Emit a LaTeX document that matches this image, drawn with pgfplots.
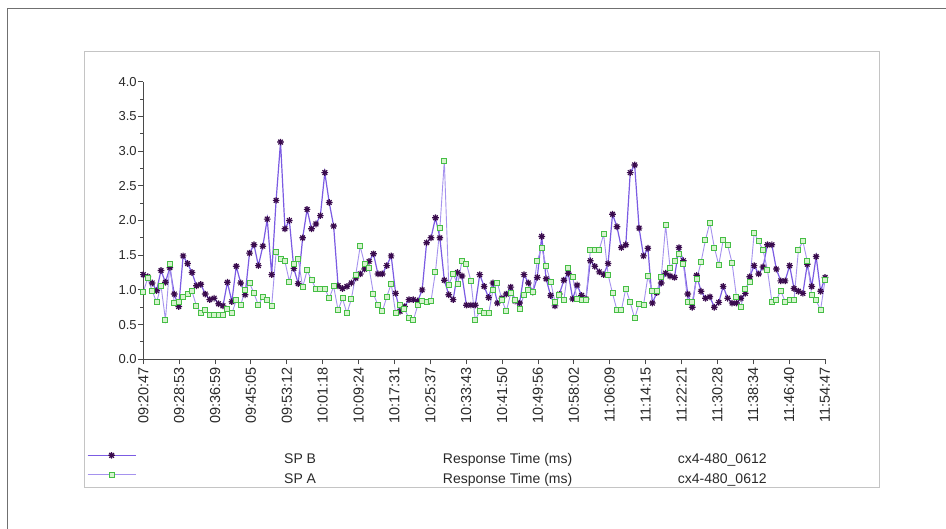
\documentclass[border=0pt]{standalone}
\usepackage{fontspec}
\setmainfont{Liberation Sans}
\usepackage{pgfplots}
\usepackage{pgfplotstable}
\pgfplotsset{compat=1.18}

\definecolor{frame}{HTML}{707070}
\definecolor{panelborder}{HTML}{C4C4C4}
\definecolor{axisgray}{HTML}{4A4A4A}
\definecolor{labelgray}{HTML}{2A2A2A}
\definecolor{spbline}{HTML}{7B5BE3}
\definecolor{spbmark}{HTML}{3A0B4E}
\definecolor{spaline}{HTML}{A592EE}
\definecolor{spamarkfill}{HTML}{D6F3CE}
\definecolor{spamarkdraw}{HTML}{45BE45}

\pgfdeclareplotmark{ast8}{%
 \pgfpathmoveto{\pgfqpoint{-\pgfplotmarksize}{0pt}}\pgfpathlineto{\pgfqpoint{\pgfplotmarksize}{0pt}}%
 \pgfpathmoveto{\pgfqpoint{0pt}{-\pgfplotmarksize}}\pgfpathlineto{\pgfqpoint{0pt}{\pgfplotmarksize}}%
 \pgfpathmoveto{\pgfqpoint{-0.707\pgfplotmarksize}{-0.707\pgfplotmarksize}}\pgfpathlineto{\pgfqpoint{0.707\pgfplotmarksize}{0.707\pgfplotmarksize}}%
 \pgfpathmoveto{\pgfqpoint{-0.707\pgfplotmarksize}{0.707\pgfplotmarksize}}\pgfpathlineto{\pgfqpoint{0.707\pgfplotmarksize}{-0.707\pgfplotmarksize}}%
 \pgfusepathqstroke}

\pgfplotstableread{
m b a
0 1.22 0.97
1 1.19 1.17
2 1.10 0.99
3 0.99 0.82
4 1.28 1.06
5 1.11 0.57
6 1.32 1.37
7 0.94 0.81
8 0.76 0.83
9 1.49 0.90
10 1.38 0.94
11 1.25 0.98
12 1.06 0.77
13 1.08 0.67
14 0.94 0.71
15 0.86 0.64
16 0.88 0.64
17 0.80 0.64
18 0.77 0.64
19 1.11 0.73
20 0.83 0.66
21 1.34 0.85
22 1.10 0.78
23 0.93 1.00
24 1.53 1.10
25 1.65 0.95
26 1.35 0.78
27 1.63 0.90
28 2.02 0.85
29 1.22 0.77
30 2.29 1.54
31 3.13 1.44
32 1.88 1.41
33 2.00 1.12
34 1.31 1.38
35 1.09 1.44
36 1.75 1.04
37 2.16 1.28
38 1.88 1.14
39 1.95 1.02
40 2.07 1.02
41 2.69 1.02
42 2.26 0.88
43 1.92 1.05
44 1.06 0.71
45 1.02 0.88
46 1.05 0.66
47 1.10 0.87
48 1.17 1.22
49 1.23 1.63
50 1.30 1.37
51 1.41 1.32
52 1.52 0.94
53 1.23 0.78
54 1.23 0.69
55 1.35 0.90
56 1.49 1.09
57 0.95 0.67
58 0.69 0.78
59 0.76 0.72
60 0.86 0.60
61 0.86 0.56
62 0.84 0.78
63 1.00 0.84
64 1.68 0.83
65 1.75 0.84
66 2.04 1.26
67 1.75 1.89
68 1.14 2.86
69 0.93 1.07
70 0.86 1.23
71 1.25 1.08
72 1.20 1.42
73 0.78 1.38
74 0.78 1.13
75 0.78 0.57
76 1.22 0.69
77 1.05 0.67
78 0.89 0.66
79 1.10 1.00
80 0.81 1.10
81 0.88 0.86
82 0.94 0.69
83 1.04 0.95
84 0.84 0.86
85 0.81 0.72
86 1.22 0.93
87 1.10 1.00
88 0.97 0.97
89 1.18 1.42
90 1.77 1.61
91 1.16 1.34
92 0.92 1.12
93 0.77 0.83
94 0.94 0.92
95 1.14 0.85
96 1.24 1.32
97 0.87 1.18
98 1.07 0.87
99 0.92 0.85
100 0.87 0.86
101 1.42 1.58
102 1.34 1.58
103 1.26 1.58
104 1.22 1.80
105 1.38 1.22
106 2.09 0.95
107 1.91 0.71
108 1.61 0.71
109 1.65 1.02
110 2.69 0.82
111 2.80 0.59
112 1.89 0.80
113 1.49 0.78
114 1.60 1.20
115 0.81 0.98
116 0.96 0.98
117 1.10 1.18
118 1.24 1.93
119 1.20 1.32
120 1.18 1.42
121 1.61 1.52
122 1.42 1.38
123 0.94 0.83
124 0.75 0.83
125 1.21 1.15
126 0.98 1.40
127 0.88 1.72
128 0.90 1.97
129 0.75 1.61
130 0.82 1.36
131 1.05 1.72
132 0.88 1.65
133 0.81 1.39
134 0.81 0.90
135 0.88 0.76
136 0.95 1.02
137 1.19 1.11
138 1.35 1.82
139 1.23 1.70
140 1.33 1.57
141 1.65 1.29
142 1.65 0.83
143 1.30 0.85
144 1.13 0.99
145 1.13 0.83
146 1.35 0.85
147 1.02 0.86
148 0.98 1.58
149 0.95 1.70
150 1.37 1.41
151 1.05 0.92
152 1.48 0.85
153 0.98 0.71
154 1.18 1.14
}\resp

\begin{document}
\begin{tikzpicture}
\useasboundingbox (0bp,0bp) rectangle (946bp,529bp);
\draw[line width=1.5bp, color=frame] (7.3bp,0bp) -- (7.3bp,520.3bp) -- (946bp,520.3bp);
\draw[line width=0.8bp, color=panelborder, fill=white] (84.3bp,41.2bp) rectangle (879.5bp,477.7bp);
\begin{axis}[
  at={(143.3bp,169.7bp)}, anchor=south west,
  scale only axis, width=681.7bp, height=277.6bp,
  xmin=0, xmax=154, ymin=0, ymax=4,
  enlargelimits=false, clip=false,
  axis lines=left,
  axis line style={-, draw=axisgray, line width=1bp},
  every tick/.style={draw=axisgray, line width=0.9bp},
  tick align=outside,
  major tick length=5bp, minor tick length=3bp,
  ytick={0,0.5,1,1.5,2,2.5,3,3.5,4},
  minor y tick num=1,
  xtick={0,8.10526,16.21053,24.31579,32.42105,40.52632,48.63158,56.73684,64.84211,72.94737,81.05263,89.15789,97.26316,105.36842,113.47368,121.57895,129.68421,137.78947,145.89474,154},
  xticklabels={09:20:47,09:28:53,09:36:59,09:45:05,09:53:12,10:01:18,10:09:24,10:17:31,10:25:37,10:33:43,10:41:50,10:49:56,10:58:02,11:06:09,11:14:15,11:22:21,11:30:28,11:38:34,11:46:40,11:54:47},
  /pgf/number format/assume math mode=true,
  yticklabel style={/pgf/number format/.cd, fixed, fixed zerofill, precision=1, /tikz/.cd, font=\fontsize{13bp}{15bp}\selectfont, text=labelgray, inner sep=0pt},
  yticklabel shift=1.5bp,
  xticklabel style={rotate=90, anchor=east, font=\fontsize{14.5bp}{16bp}\selectfont, text=labelgray, inner sep=0pt},
  xticklabel shift=2.5bp,
  legend style={draw=none, fill=none, at={(axis description cs:-0.0826,-0.334)}, anchor=north west,
    inner sep=0pt, outer sep=0pt, font=\fontsize{14bp}{16bp}\selectfont, text=labelgray,
    row sep=5.5bp, nodes={inner sep=0pt, text height=10bp, text depth=3bp}},
  legend cell align=left,
  legend image code/.code={\draw[mark repeat=2,mark phase=2,#1] plot coordinates {(0bp,5bp) (24bp,5bp) (48bp,5bp)};},
]
\addplot[color=spbline, line width=1.2bp, mark=ast8, mark size=3.3bp,
  mark options={draw=spbmark, line width=1.2bp, solid}] table[x=m,y=b]{\resp};
\addlegendentry{\hspace*{148bp}\makebox[158.7bp][l]{SP B}\makebox[235bp][l]{Response Time (ms)}cx4-480\_0612}
\addplot[color=spaline, line width=0.9bp, mark=square*, mark size=2.5bp,
  mark options={draw=spamarkdraw, fill=spamarkfill, line width=1bp, solid}] table[x=m,y=a]{\resp};
\addlegendentry{\hspace*{148bp}\makebox[158.7bp][l]{SP A}\makebox[235bp][l]{Response Time (ms)}cx4-480\_0612}
\end{axis}
\end{tikzpicture}
\end{document}
